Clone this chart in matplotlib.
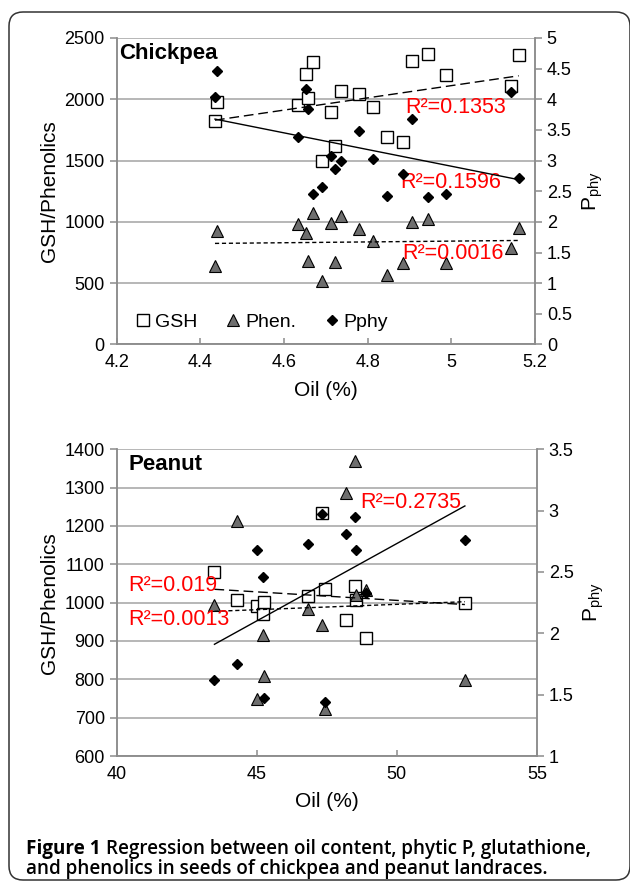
import matplotlib
matplotlib.use("Agg")
import matplotlib.pyplot as plt
import numpy as np
from matplotlib.patches import FancyBboxPatch
from matplotlib.transforms import IdentityTransform

plt.rcParams['font.family'] = ['Liberation Sans', 'DejaVu Sans']

# chickpea samples
cp_oil = [4.435, 4.44, 4.634, 4.652, 4.658, 4.67, 4.692, 4.712, 4.722, 4.736,
          4.78, 4.812, 4.847, 4.884, 4.905, 4.945, 4.987, 5.143, 5.161]
cp_gsh = [1820, 1975, 1955, 2210, 2010, 2300, 1500, 1895, 1615, 2065,
          2040, 1940, 1690, 1655, 2315, 2370, 2200, 2110, 2360]
cp_phen = [640, 928, 980, 907, 681, 1070, 518, 989, 673, 1048,
           945, 847, 564, 662, 1002, 1024, 662, 785, 953]
cp_pphy = [4.04, 4.46, 3.39, 4.16, 3.84, 2.45, 2.57, 3.08, 2.86, 3.00,
           3.48, 3.02, 2.43, 2.78, 3.67, 2.41, 2.46, 4.12, 2.72]

# peanut samples
pn_oil = [43.49, 44.31, 45.02, 45.21, 45.27, 46.82, 47.32, 47.45, 48.18,
          48.52, 48.54, 48.89, 52.43]
pn_gsh = [1079, 1007, 990, 970, 1002, 1018, 1235, 1035, 956, 1044, 1007, 907, 998]
pn_phen = [993, 1213, 749, 915, 809, 983, 942, 723, 1287, 1370, 1020, 1033, 798]
pn_pphy = [1.62, 1.75, 2.68, 2.46, 1.47, 2.73, 2.97, 1.44, 2.81, 2.95, 2.68, 2.33, 2.76]

cp_r2 = ["R²=0.1353", "R²=0.0016", "R²=0.1596"]
pn_r2 = ["R²=0.019", "R²=0.0013", "R²=0.2735"]

GRID = '#a3a3a3'
SPINE = '#8c8c8c'


def trend(ax, x, y, **kw):
    k, b = np.polyfit(x, y, 1)
    xs = np.array([min(x), max(x)])
    ax.plot(xs, k * xs + b, color='black', lw=1.0, **kw)


def panel(ax, oil, gsh, phen, pphy, xlim, xticks, xlabels, ylim, yticks,
          rlim, rticks, rlabels, title, title_x, r2, r2pos):
    ax2 = ax.twinx()
    ax.set_xlim(*xlim)
    ax.set_ylim(*ylim)
    ax2.set_ylim(*rlim)
    ax.set_xticks(xticks)
    ax.set_xticklabels(xlabels)
    ax.set_yticks(yticks)
    ax2.set_yticks(rticks)
    ax2.set_yticklabels(rlabels)
    ax.grid(axis='y', color=GRID, lw=1.1)
    ax.set_axisbelow(True)
    for a in (ax, ax2):
        for s in a.spines.values():
            s.set_color(SPINE)
            s.set_linewidth(1.1)
        a.spines['top'].set_visible(False)
        a.tick_params(labelsize=13, color=SPINE, width=1.1, length=5)
    ax.tick_params(axis='x', direction='in', length=4, pad=7)

    l1, = ax.plot(oil, gsh, ls='none', marker='s', ms=8, mfc='white',
                  mec='black', mew=1.0, label='GSH')
    l2, = ax.plot(oil, phen, ls='none', marker='^', ms=8.5, mfc='#6e6e6e',
                  mec='black', mew=0.8, label='Phen.')
    l3, = ax2.plot(oil, pphy, ls='none', marker='D', ms=5.6, mfc='black',
                   mec='black', label='Pphy')
    trend(ax, oil, gsh, dashes=(7, 3.5))
    trend(ax, oil, phen, dashes=(3, 2))
    trend(ax2, oil, pphy)

    ax.set_xlabel('Oil (%)', fontsize=15, labelpad=7)
    ax.set_ylabel('GSH/Phenolics', fontsize=15, labelpad=4)
    ax2.set_ylabel(r'$\mathregular{P_{phy}}$', fontsize=15, labelpad=6)
    ax.text(title_x, 0.985, title, transform=ax.transAxes, fontsize=16,
            fontweight='bold', va='top', ha='left')
    for t, (tx, ty) in zip(r2, r2pos):
        ax.text(tx, ty, t, color='red', fontsize=15.5, va='center', ha='left')
    return ax2, (l1, l2, l3)


fig = plt.figure(figsize=(6.3, 8.83), dpi=100)

ax_top = fig.add_axes([0.1852, 0.6099, 0.664, 0.3471])
ax2_top, handles = panel(
    ax_top, cp_oil, cp_gsh, cp_phen, cp_pphy,
    (4.2, 5.2), [4.2, 4.4, 4.6, 4.8, 5.0, 5.2], ['4.2', '4.4', '4.6', '4.8', '5', '5.2'],
    (0, 2500), [0, 500, 1000, 1500, 2000, 2500],
    (0, 5), [0, 0.5, 1, 1.5, 2, 2.5, 3, 3.5, 4, 4.5, 5],
    ['0', '0.5', '1', '1.5', '2', '2.5', '3', '3.5', '4', '4.5', '5'],
    'Chickpea', 0.005, cp_r2, [(4.889, 1929), (4.882, 746), (4.877, 1325)])
ax2_top.legend(handles=handles, loc='lower left', bbox_to_anchor=(0.015, 0.0),
               ncol=3, frameon=False, fontsize=14, handlelength=0.7,
               handletextpad=0.25, columnspacing=1.5, borderaxespad=0.3)

ax_bot = fig.add_axes([0.1852, 0.1438, 0.667, 0.3474])
panel(ax_bot, pn_oil, pn_gsh, pn_phen, pn_pphy,
      (40, 55), [40, 45, 50, 55], ['40', '45', '50', '55'],
      (600, 1400), [600, 700, 800, 900, 1000, 1100, 1200, 1300, 1400],
      (1, 3.5), [1, 1.5, 2, 2.5, 3, 3.5], ['1', '1.5', '2', '2.5', '3', '3.5'],
      'Peanut', 0.028, pn_r2, [(40.40, 1046), (40.40, 955), (48.69, 1260)])

# rounded frame around the figure
frame = FancyBboxPatch((9, 3), 621, 868, boxstyle='round,pad=0,rounding_size=14',
                       transform=IdentityTransform(), fill=False,
                       ec='#333333', lw=1.1)
fig.patches.append(frame)

# caption
cap_font = ['Open Sans', 'DejaVu Sans']
cap_size = 13.6
t1 = fig.text(26 / 630, 1 - 849 / 883, 'Figure 1', fontsize=cap_size, fontweight='bold',
              family=cap_font, va='center', ha='left')
r = fig.canvas.get_renderer()
bb = t1.get_window_extent(renderer=r)
fig.text((bb.x1 + 5) / 630, 1 - 849 / 883,
         'Regression between oil content, phytic P, glutathione,',
         fontsize=cap_size, fontweight='semibold', family=cap_font, va='center', ha='left')
fig.text(26 / 630, 1 - 869 / 883, 'and phenolics in seeds of chickpea and peanut landraces.',
         fontsize=cap_size, fontweight='semibold', family=cap_font, va='center', ha='left')

fig.savefig('out.png', dpi=100)
